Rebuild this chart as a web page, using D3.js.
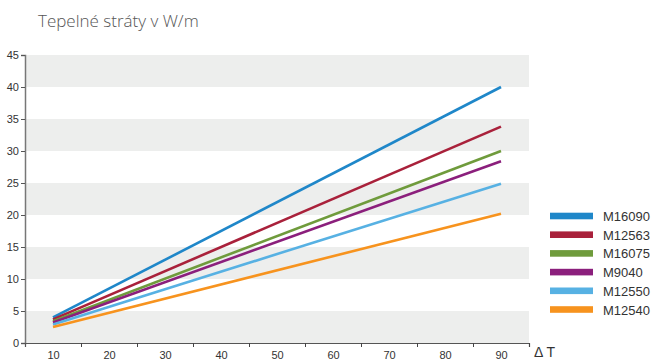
<!DOCTYPE html>
<html>
<head>
<meta charset="utf-8">
<script src="https://cdn.jsdelivr.net/npm/d3@7"></script>
<style>
  html, body { margin: 0; padding: 0; background: #fff; }
  svg { display: block; }
  .tick text { font-family: "Liberation Sans Narrow", "Liberation Sans", Arial, sans-serif; font-size: 11px; fill: #333; }
</style>
</head>
<body>
<div id="chart"></div>
<script>
(function(){
  // Heat loss (W/m) vs temperature difference, one straight line per pipe model.
  const seriesNames = ['M16090', 'M12563', 'M16075', 'M9040', 'M12550', 'M12540'];
  const seriesColors = ['#1f87c9', '#a9213b', '#6f9b3c', '#8b1f7c', '#57b1e3', '#f7931e'];
  const deltaT = [10, 90];
  const startValues = [4.0, 3.7, 3.4, 3.2, 2.9, 2.5];
  const endValues = [40.0, 33.8, 30.0, 28.4, 24.9, 20.2];
  const xLabels = [10, 20, 30, 40, 50, 60, 70, 80, 90];
  const yTicks = [0, 5, 10, 15, 20, 25, 30, 35, 40, 45];

  const series = seriesNames.map((name, i) => ({
    name,
    color: seriesColors[i],
    points: [{t: deltaT[0], v: startValues[i]}, {t: deltaT[1], v: endValues[i]}]
  }));

  const width = 654, height = 360;
  const svg = d3.select('#chart').append('svg').attr('width', width).attr('height', height);

  const x = d3.scaleLinear().domain([5, 95]).range([25, 529]);
  const y = d3.scaleLinear().domain([0, 45]).range([343, 55]);

  // Alternating grey bands, every other 5 units starting at 0.
  const bands = yTicks.slice(0, -1).filter((d, i) => i % 2 === 0);
  svg.append('g').selectAll('rect')
    .data(bands)
    .join('rect')
    .attr('x', x(5))
    .attr('width', x(95) - x(5))
    .attr('y', d => y(d + 5))
    .attr('height', d => y(d) - y(d + 5))
    .attr('fill', '#edeeed');

  // Title
  svg.append('text')
    .attr('x', 38).attr('y', 27)
    .attr('font-family', '"Open Sans", "Segoe UI", sans-serif')
    .attr('font-weight', 300)
    .attr('font-size', 17)
    .attr('fill', '#555')
    .text('Tepelné stráty v W/m');

  // Y axis
  const yAxis = svg.append('g')
    .attr('transform', `translate(${x(5)},0)`)
    .call(d3.axisLeft(y).tickValues(yTicks).tickSize(4).tickPadding(2));
  yAxis.select('.domain').attr('stroke', '#777').attr('stroke-width', 1.5);
  yAxis.selectAll('.tick line').attr('stroke', '#555');

  // X axis: tick marks between categories, labels at centres
  const xTickMarks = svg.append('g')
    .attr('transform', `translate(0,${y(0)})`)
    .call(d3.axisBottom(x).tickValues(d3.range(15, 96, 10)).tickSize(4).tickFormat(''));
  xTickMarks.select('.domain').attr('stroke', '#555').attr('stroke-width', 1.2);
  xTickMarks.selectAll('.tick line').attr('stroke', '#444');

  const xLabelAxis = svg.append('g')
    .attr('transform', `translate(0,${y(0)})`)
    .call(d3.axisBottom(x).tickValues(xLabels).tickSize(0).tickPadding(8));
  xLabelAxis.select('.domain').remove();

  svg.append('text')
    .attr('x', 534).attr('y', 357)
    .attr('font-family', '"Liberation Sans", Arial, sans-serif')
    .attr('font-size', 14)
    .attr('fill', '#333')
    .text('\u0394 T');

  // Lines
  const line = d3.line().x(d => x(d.t)).y(d => y(d.v));
  svg.append('g').selectAll('path')
    .data(series)
    .join('path')
    .attr('d', d => line(d.points))
    .attr('fill', 'none')
    .attr('stroke', d => d.color)
    .attr('stroke-width', 2.6);

  // Legend
  const legend = svg.append('g').attr('transform', 'translate(550,216)');
  const item = legend.selectAll('g')
    .data(series)
    .join('g')
    .attr('transform', (d, i) => `translate(0,${i * 18.7})`);
  item.append('rect')
    .attr('x', 0).attr('y', -3.3)
    .attr('width', 43).attr('height', 6.6)
    .attr('fill', d => d.color);
  item.append('text')
    .attr('x', 53).attr('y', 5)
    .attr('font-family', '"Liberation Sans", Arial, sans-serif')
    .attr('font-size', 13)
    .attr('fill', '#333')
    .text(d => d.name);
})();
</script>
</body>
</html>
